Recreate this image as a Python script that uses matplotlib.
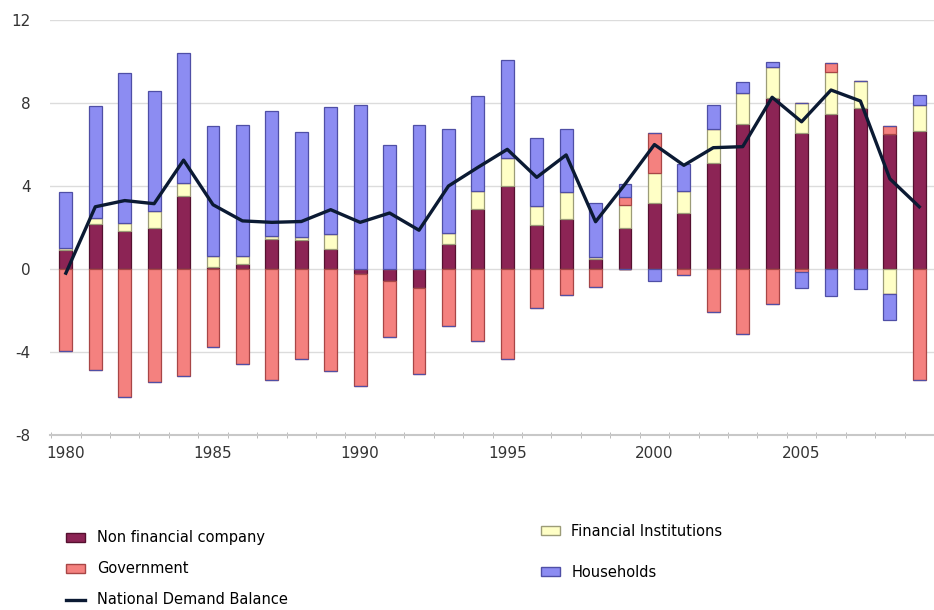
import numpy as np
import matplotlib
matplotlib.use("Agg")
import matplotlib.pyplot as plt
from matplotlib.patches import Patch
from matplotlib.lines import Line2D

plt.rcParams["axes.unicode_minus"] = False

years = list(range(1980, 2010))

# sector balances (% of GDP)
non_financial = [0.9, 2.16, 1.84, 2.0, 3.53, 0.1, 0.24, 1.44, 1.4, 0.96,
                 -0.25, -0.56, -0.91, 1.2, 2.88, 4.0, 2.1, 2.4, 0.5, 2.0,
                 3.2, 2.72, 5.13, 6.97, 8.25, 6.57, 7.45, 7.77, 6.49, 6.65]
financial = [0.1, 0.32, 0.4, 0.8, 0.64, 0.55, 0.4, 0.16, 0.12, 0.72,
             0.0, 0.0, 0.0, 0.56, 0.89, 1.37, 0.95, 1.29, 0.06, 1.09,
             1.45, 1.05, 1.6, 1.52, 1.48, 1.43, 2.05, 1.28, -1.2, 1.28]
government = [-3.93, -4.86, -6.17, -5.45, -5.18, -3.77, -4.6, -5.37, -4.33, -4.92,
              -5.41, -2.73, -4.17, -2.77, -3.48, -4.33, -1.88, -1.23, -0.88, 0.36,
              1.92, -0.3, -2.08, -3.13, -1.71, -0.15, 0.44, 0.0, 0.4, -5.37]
households = [2.73, 5.37, 7.21, 5.77, 6.25, 6.24, 6.3, 6.01, 5.1, 6.12,
              7.9, 5.98, 6.94, 4.97, 4.56, 4.73, 3.25, 3.04, 2.6, 0.64,
              -0.56, 1.3, 1.17, 0.53, 0.27, -0.75, -1.28, -0.96, -1.28, 0.48]
national_balance = [-0.2, 3.0, 3.3, 3.15, 5.25, 3.1, 2.32, 2.25, 2.29, 2.86,
                    2.25, 2.7, 1.87, 4.0, 4.9, 5.77, 4.42, 5.5, 2.28, 4.09,
                    6.0, 5.0, 5.85, 5.9, 8.28, 7.1, 8.63, 8.1, 4.35, 3.0]

series = [
    ("Non financial company", non_financial, "#8c2455", "#55102f"),
    ("Financial Institutions", financial, "#ffffc6", "#9c9c78"),
    ("Government", government, "#f4817f", "#a84646"),
    ("Households", households, "#8c8cf2", "#4f4fa6"),
]

fig = plt.figure(figsize=(9.34, 6.1), dpi=100)
ax = fig.add_axes([0.0535, 0.287, 0.9465, 0.68])

x = np.array(years)
pos_bottom = np.zeros(len(years))
neg_bottom = np.zeros(len(years))
for name, vals, col, edge in series:
    v = np.array(vals)
    p = np.where(v > 0, v, 0)
    n = np.where(v < 0, v, 0)
    ax.bar(x, p, 0.44, bottom=pos_bottom, color=col, edgecolor=edge, linewidth=0.9, zorder=2)
    ax.bar(x, n, 0.44, bottom=neg_bottom, color=col, edgecolor=edge, linewidth=0.9, zorder=2)
    pos_bottom += p
    neg_bottom += n

ax.plot(x, national_balance, color="#0b1a33", linewidth=2.4, zorder=3)

ax.set_ylim(-8, 12)
ax.set_xlim(1979.46, 2009.2)
ax.set_yticks([-8, -4, 0, 4, 8, 12])
ax.set_xticks([1980, 1985, 1990, 1995, 2000, 2005])
ax.set_xticks(np.arange(1979.5, 2009.6, 1), minor=True)
ax.grid(axis="y", color="#dcdcdc", linewidth=1.0, zorder=0)
for s in ["top", "right", "left"]:
    ax.spines[s].set_visible(False)
ax.spines["bottom"].set_color("#c8c8c8")
ax.spines["bottom"].set_linewidth(1.5)
ax.tick_params(axis="y", length=0, pad=14, labelsize=11, labelcolor="#333333")
ax.tick_params(axis="x", which="major", length=0, pad=8, labelsize=11, labelcolor="#333333")
ax.tick_params(axis="x", which="minor", length=4, color="#b0b0b0", direction="inout")

left_handles = [
    Patch(facecolor="#8c2455", edgecolor="#55102f"),
    Patch(facecolor="#f4817f", edgecolor="#a84646"),
    Line2D([0], [0], color="#0b1a33", linewidth=2.4),
]
leg1 = fig.legend(left_handles, ["Non financial company", "Government", "National Demand Balance"],
                  loc="upper left", bbox_to_anchor=(0.057, 0.152),
                  frameon=False, handlelength=1.3, handleheight=0.6,
                  labelspacing=1.1, fontsize=10.5)

right_handles = [
    Patch(facecolor="#ffffc6", edgecolor="#9c9c78"),
    Patch(facecolor="#8c8cf2", edgecolor="#4f4fa6"),
]
leg2 = fig.legend(right_handles, ["Financial Institutions", "Households"],
                  loc="upper left", bbox_to_anchor=(0.565, 0.163),
                  frameon=False, handlelength=1.3, handleheight=0.6,
                  labelspacing=1.8, fontsize=10.5)

fig.savefig("out.png", dpi=100)
